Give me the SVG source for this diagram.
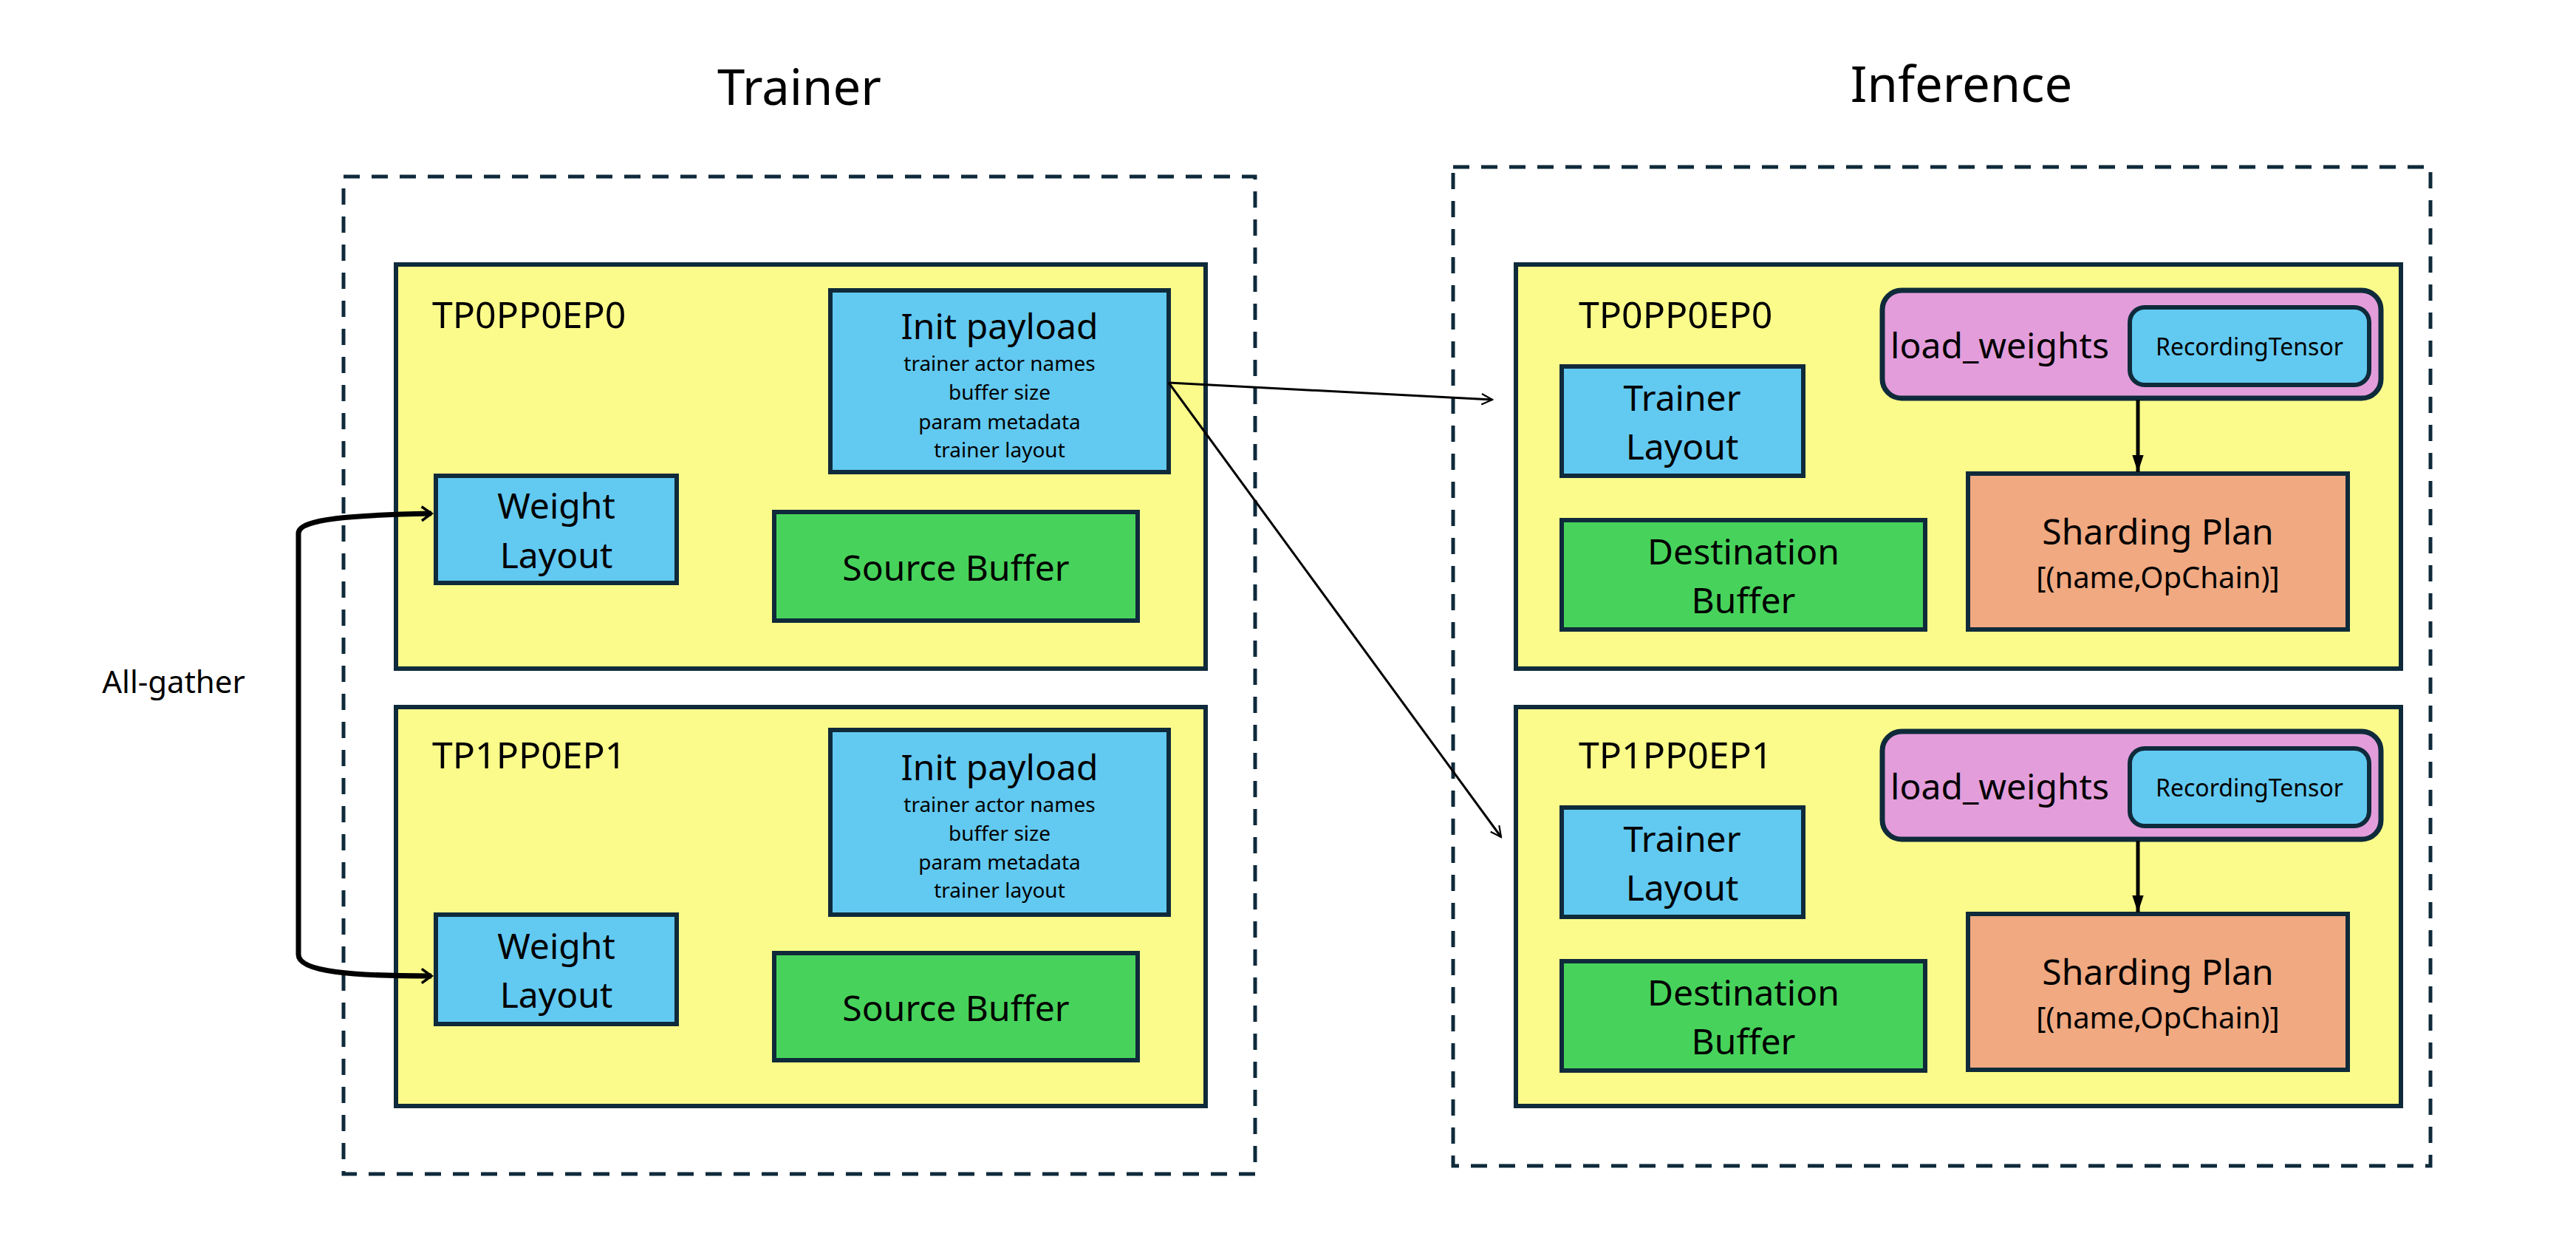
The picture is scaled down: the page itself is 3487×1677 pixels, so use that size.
<svg xmlns="http://www.w3.org/2000/svg" width="3487" height="1677" viewBox="0 0 3487 1677">
<defs>
<style>
text{font-family:"Noto Sans","Liberation Sans",sans-serif;fill:#000;text-anchor:middle;dominant-baseline:central}
.dash{fill:none;stroke:#0f2a3a;stroke-width:5;stroke-dasharray:22 16}
.y{fill:#fafb8a;stroke:#0f2a3a;stroke-width:6}
.b{fill:#62c9f1;stroke:#0f2a3a;stroke-width:6}
.g{fill:#47d35b;stroke:#0f2a3a;stroke-width:6}
.o{fill:#f0a981;stroke:#0f2a3a;stroke-width:6}
.p{fill:#e39ddb;stroke:#0f2a3a;stroke-width:7}
.t{font-size:67px}
.tp{font-size:50px;text-anchor:start}
.l{font-size:48px}
.s{font-size:28px}
.m{font-size:40px}
.c{fill:none;stroke:#000;stroke-width:3}
</style>
<marker id="open" viewBox="0 0 20 20" refX="18" refY="10" markerWidth="18" markerHeight="18" markerUnits="userSpaceOnUse" orient="auto"><path d="M2,2 L18,10 L2,18" fill="none" stroke="#000" stroke-width="2.5"/></marker>
<marker id="openb" viewBox="0 0 20 20" refX="17" refY="10" markerWidth="24" markerHeight="24" markerUnits="userSpaceOnUse" orient="auto-start-reverse"><path d="M6,2 L17,10 L6,18" fill="none" stroke="#000" stroke-width="3"/></marker>
<marker id="fill" viewBox="0 0 20 20" refX="18" refY="10" markerWidth="26" markerHeight="26" markerUnits="userSpaceOnUse" orient="auto"><path d="M0,4 L18,10 L0,16 Z" fill="#000"/></marker>
</defs>
<text class="t" x="1082" y="116">Trainer</text>
<text class="t" x="2655" y="112">Inference</text>
<rect class="dash" x="465" y="239" width="1234" height="1350"/>
<rect class="dash" x="1967" y="226" width="1323" height="1352"/>
<g id="trainer0">
<rect class="y" x="536" y="358" width="1096" height="547"/>
<text class="tp" x="585" y="425">TP0PP0EP0</text>
<g id="init0"><rect class="b" x="1124" y="393" width="458" height="246"/>
<text class="l" x="1353" y="440">Init payload</text>
<text class="s" x="1353" y="491">trainer actor names</text><text class="s" x="1353" y="530">buffer size</text><text class="s" x="1353" y="570">param metadata</text><text class="s" x="1353" y="608">trainer layout</text></g>
<g id="weight0"><rect class="b" x="590" y="644" width="326" height="145"/><text class="l" x="753" y="683">Weight</text><text class="l" x="753" y="750">Layout</text></g>
<g id="source0"><rect class="g" x="1048" y="693" width="492" height="147"/><text class="l" x="1294" y="767">Source Buffer</text></g>
</g>
<g id="trainer1">
<rect class="y" x="536" y="957" width="1096" height="540"/>
<text class="tp" x="585" y="1021">TP1PP0EP1</text>
<g id="init1"><rect class="b" x="1124" y="988" width="458" height="250"/>
<text class="l" x="1353" y="1037">Init payload</text>
<text class="s" x="1353" y="1088">trainer actor names</text><text class="s" x="1353" y="1127">buffer size</text><text class="s" x="1353" y="1166">param metadata</text><text class="s" x="1353" y="1204">trainer layout</text></g>
<g id="weight1"><rect class="b" x="590" y="1238" width="326" height="148"/><text class="l" x="753" y="1279">Weight</text><text class="l" x="753" y="1345">Layout</text></g>
<g id="source1"><rect class="g" x="1048" y="1290" width="492" height="145"/><text class="l" x="1294" y="1363">Source Buffer</text></g>
</g>
<g id="inf0">
<rect class="y" x="2052" y="358" width="1198" height="547"/>
<text class="tp" x="2137" y="425">TP0PP0EP0</text>
<g id="lw0"><rect class="p" x="2548" y="393" width="675" height="146" rx="26"/><text class="l" x="2707" y="466">load_weights</text>
<rect class="b" x="2883" y="416" width="324" height="105" rx="20"/><text class="s" x="3045" y="468" style="font-size:32px">RecordingTensor</text></g>
<g id="tl0"><rect class="b" x="2114" y="496" width="327" height="148"/><text class="l" x="2277" y="537">Trainer</text><text class="l" x="2277" y="603">Layout</text></g>
<g id="dest0"><rect class="g" x="2114" y="704" width="492" height="148"/><text class="l" x="2360" y="745">Destination</text><text class="l" x="2360" y="811">Buffer</text></g>
<g id="shard0"><rect class="o" x="2664" y="641" width="514" height="211"/><text class="l" x="2921" y="718">Sharding Plan</text><text class="m" x="2921" y="780">[(name,OpChain)]</text></g>
</g>
<g id="inf1">
<rect class="y" x="2052" y="957" width="1198" height="540"/>
<text class="tp" x="2137" y="1021">TP1PP0EP1</text>
<g id="lw1"><rect class="p" x="2548" y="990" width="675" height="146" rx="26"/><text class="l" x="2707" y="1063">load_weights</text>
<rect class="b" x="2883" y="1013" width="324" height="105" rx="20"/><text class="s" x="3045" y="1065" style="font-size:32px">RecordingTensor</text></g>
<g id="tl1"><rect class="b" x="2114" y="1093" width="327" height="148"/><text class="l" x="2277" y="1134">Trainer</text><text class="l" x="2277" y="1200">Layout</text></g>
<g id="dest1"><rect class="g" x="2114" y="1301" width="492" height="148"/><text class="l" x="2360" y="1342">Destination</text><text class="l" x="2360" y="1408">Buffer</text></g>
<g id="shard1"><rect class="o" x="2664" y="1237" width="514" height="211"/><text class="l" x="2921" y="1314">Sharding Plan</text><text class="m" x="2921" y="1376">[(name,OpChain)]</text></g>
</g>
<text x="235" y="921" style="font-size:42px">All-gather</text>
<g id="connectors">
<path class="c" d="M1582,518 L2020,541" marker-end="url(#open)"/>
<path class="c" d="M1582,518 L2032,1133" marker-end="url(#open)"/>
<path d="M2894,541 L2894,639" stroke="#000" stroke-width="5" fill="none" marker-end="url(#fill)"/>
<path d="M2894,1138 L2894,1235" stroke="#000" stroke-width="5" fill="none" marker-end="url(#fill)"/>
<path d="M584,695 C480,697 404,702 404,722 L404,1292 C404,1316 480,1321 584,1321" stroke="#000" stroke-width="7" fill="none" marker-start="url(#openb)" marker-end="url(#openb)"/>
</g>
</svg>
